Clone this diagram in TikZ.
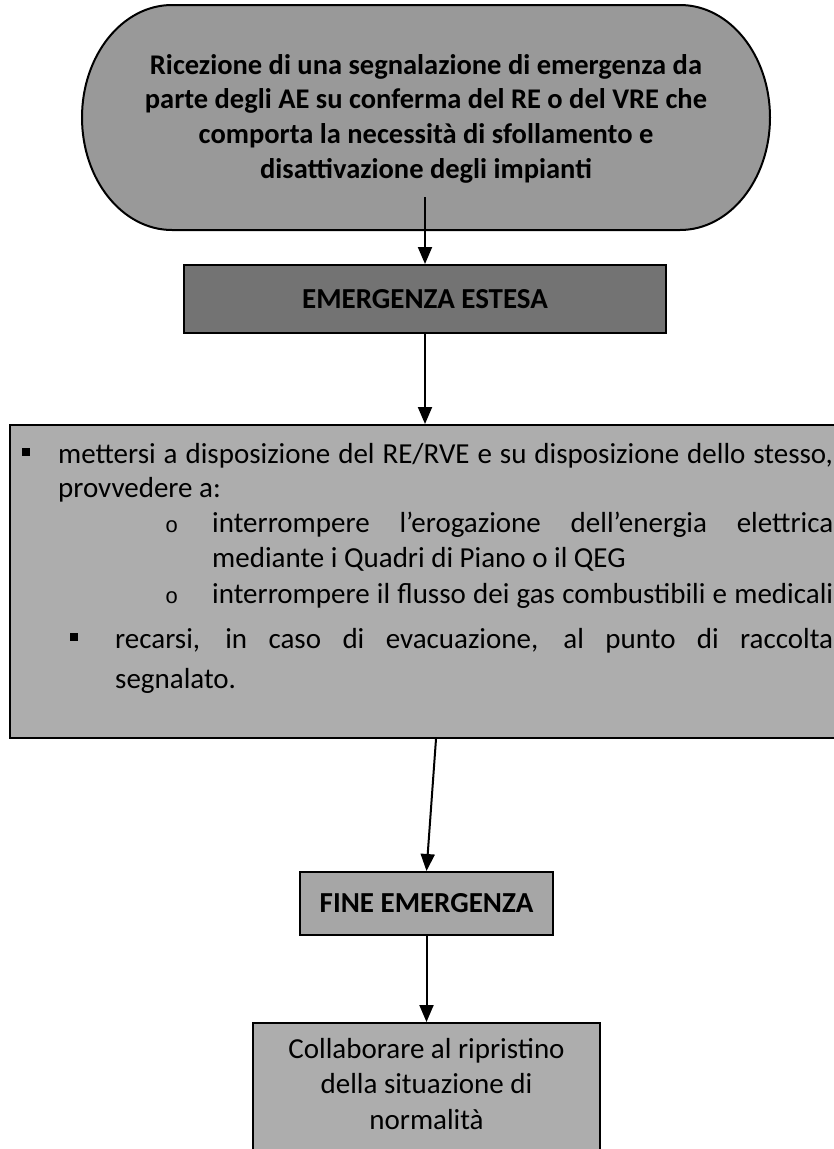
\documentclass[tikz,border=0pt]{standalone}
\usepackage{fontspec}
\setmainfont{Carlito}
\newfontfamily\monofont{Liberation Mono}
\usetikzlibrary{arrows.meta}
\tikzset{
  blocco/.style={draw, line width=2pt, inner sep=0pt},
  riga/.style={anchor=base west, inner sep=0pt, font=\fontsize{29}{35.4}\selectfont},
  freccia/.style={-{Triangle[length=17pt,width=14pt]}, line width=2pt}
}
\newcommand{\quadretto}[1]{\llap{\rule[7.5pt]{8pt}{8pt}\hspace{#1}}}
\newcommand{\cerchietto}{\llap{{\monofont\fontsize{22}{22}\selectfont o}\hspace{34pt}}}
\begin{document}
\begin{tikzpicture}[x=1pt,y=-1pt]
      \useasboundingbox (0,0) rectangle (834,1149);
      % sfondo arrotondato del primo blocco
      \filldraw[fill=black!40, line width=2pt]
        (172,5) -- (680,5) arc[start angle=90, end angle=-90, x radius=90pt, y radius=112.5pt]
        -- (172,230) arc[start angle=270, end angle=90, x radius=90pt, y radius=112.5pt] -- cycle;
      \node[anchor=north, align=center, inner sep=0pt,
        font=\bfseries\fontsize{28.5}{34.7}\selectfont] (ricezione) at (426,54)
        {Ricezione di una segnalazione di emergenza da\\
         parte degli AE su conferma del RE o del VRE che\\
         comporta la necessità di sfollamento e\\
         disattivazione degli impianti};
      \coordinate (uscita) at (425,197);
      \node[blocco, fill=black!55, minimum width=482pt, minimum height=68pt,
        font=\bfseries\fontsize{29}{35}\selectfont] (estesa) at (425,299) {EMERGENZA ESTESA};
      \node[blocco, fill=black!32, minimum width=840pt, minimum height=313pt] (azioni) at (430,581.5) {};
      \node[riga] (riga1) at (58,463) {\quadretto{28pt}\makebox[775pt][s]{mettersi a disposizione del RE/RVE e su disposizione dello stesso,}};
      \node[riga] (riga2) at (58,497) {provvedere a:};
      \node[riga] (riga3) at (212,532) {\cerchietto\makebox[621pt][s]{interrompere l'erogazione dell'energia elettrica}};
      \node[riga] (riga4) at (212,567) {mediante i Quadri di Piano o il QEG};
      \node[riga] (riga5) at (212,603) {\cerchietto\makebox[621pt][s]{interrompere il flusso dei gas combustibili e medicali}};
      \node[riga] (riga6) at (115,648) {\quadretto{37pt}\makebox[718pt][s]{recarsi, in caso di evacuazione, al punto di raccolta}};
      \node[riga] (riga7) at (115,688) {segnalato.};
      \node[blocco, fill=black!35, minimum width=253pt, minimum height=63pt,
        font=\bfseries\fontsize{29}{35}\selectfont] (fine) at (426.5,903.5) {FINE EMERGENZA};
      \node[blocco, fill=black!32, anchor=north, minimum width=347pt, inner ysep=15pt,
        align=center, text depth=40pt, font=\fontsize{29}{35.5}\selectfont] (ripristino) at (426.5,1022)
        {Collaborare al ripristino\\della situazione di\\normalità};
      \begin{scope}[freccia]
        \draw (uscita) to (estesa.north);
        \draw (estesa.south) to (estesa.south |- azioni.north);
        \draw ([xshift=6pt]azioni.south) to (fine.north);
        \draw (fine.south) to (ripristino.north);
      \end{scope}
    \end{tikzpicture}
\end{document}
